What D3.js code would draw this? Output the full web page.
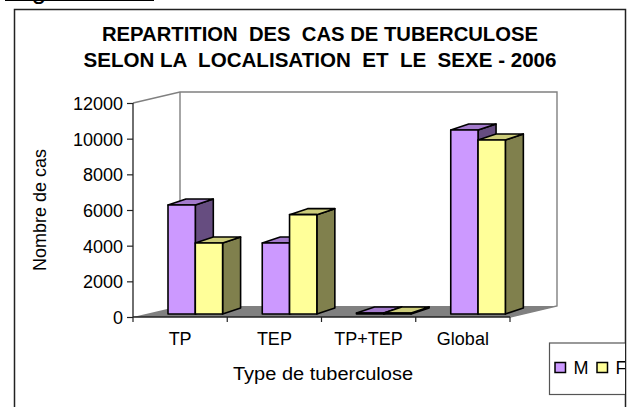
<!DOCTYPE html>
<html><head><meta charset="utf-8">
<script src="https://cdn.jsdelivr.net/npm/d3@7/dist/d3.min.js"></script>
<style>html,body{margin:0;padding:0;background:#fff}svg{display:block}text{font-family:"Liberation Sans",Arial,sans-serif;fill:#000}</style>
</head><body><svg id="c" width="628" height="407"></svg>
<script>
const categories=["TP","TEP","TP+TEP","Global"];
const seriesNames=["M","F"];
const valuesM=[6110,3980,60,10320];
const valuesF=[3980,5570,60,9760];
const yTicks=[0,2000,4000,6000,8000,10000,12000];
const titleLines=["REPARTITION  DES  CAS DE TUBERCULOSE","SELON LA  LOCALISATION  ET  LE  SEXE - 2006"];

const colors={M:{front:"#cc99ff",top:"#a37acc",side:"#664d80"},F:{front:"#ffff99",top:"#cccc7a",side:"#80804d"}};
const svg=d3.select("#c");
const x=d3.scaleBand().domain(categories).range([133,510]);
const y=d3.scaleLinear().domain([0,12000]).range([317,103]);
const depth={x:47,y:-11}, bar={x:18,y:-6,w:27.3,dx:35,dy:-3};
const stretch=(sel,w)=>sel.attr("textLength",w).attr("lengthAdjust","spacingAndGlyphs");

// outer frame and caption remnant
svg.append("path").attr("d","M14.5,407V9.5H625.5V407").attr("fill","none").attr("stroke","#222").attr("stroke-width",1.5);
svg.append("text").attr("x",10).attr("y",-1.5).attr("font-size",26).text("Figure");
svg.append("line").attr("x1",5).attr("x2",154).attr("y1",0.5).attr("y2",0.5).attr("stroke","#000").attr("stroke-width",1.2);

// title
const titleWidths=[436,473];
svg.append("g").selectAll("text").data(titleLines).join("text")
 .attr("x",320).attr("y",(d,i)=>40.7+i*26.6).attr("text-anchor","middle").attr("font-size",19.5).attr("font-weight","bold").attr("xml:space","preserve").style("white-space","pre").text(d=>d)
 .each(function(d,i){stretch(d3.select(this),titleWidths[i]);});

// floor and walls
const line=d3.line();
const x0=x.range()[0],x1=x.range()[1],y0=y(0),yT=y(12000);
svg.append("path").attr("d",line([[x0,y0],[x0+depth.x,y0+depth.y],[x1+depth.x,y0+depth.y],[x1,y0]])+"Z").attr("fill","#808080");
svg.append("path").attr("d",line([[x0,yT],[x0+depth.x,yT+depth.y],[x1+depth.x,yT+depth.y],[x1+depth.x,y0+depth.y],[x1,y0]])).attr("fill","none").attr("stroke","#808080").attr("stroke-width",1.4);
svg.append("line").attr("x1",x0+depth.x).attr("x2",x0+depth.x).attr("y1",yT+depth.y).attr("y2",y0+depth.y).attr("stroke","#808080").attr("stroke-width",1.4);

// bars
const base=y0-3;
function drawBar(g,cx,v,c){
  const h=y(0)-y(v), t=base-h, w=bar.w;
  g.append("path").attr("d",line([[cx+w,t],[cx+w+bar.x,t+bar.y],[cx+w+bar.x,base+bar.y],[cx+w,base]])+"Z").attr("fill",c.side);
  g.append("path").attr("d",line([[cx,t],[cx+bar.x,t+bar.y],[cx+w+bar.x,t+bar.y],[cx+w,t]])+"Z").attr("fill",c.top);
  g.append("rect").attr("x",cx).attr("y",t).attr("width",w).attr("height",h).attr("fill",c.front);
}
const gb=svg.append("g").attr("stroke","#000").attr("stroke-width",1.6).attr("stroke-linejoin","round");
categories.forEach((cat,i)=>{
  const cx=x(cat)+bar.dx;
  drawBar(gb,cx,valuesM[i],colors.M);
  drawBar(gb,cx+bar.w,valuesF[i],colors.F);
});

// axes
const ax=svg.append("g").attr("transform",`translate(${x0},0)`).call(d3.axisLeft(y).tickValues(yTicks).tickSize(6).tickPadding(4).tickFormat(d3.format("d")));
ax.selectAll("text").attr("font-size",18).attr("font-family",'"Liberation Sans"').attr("dy","0.36em");
ax.select(".domain").attr("stroke","#222").attr("stroke-width",1.3).attr("d",`M0,${yT}V${y0}`);
ax.selectAll("line").attr("stroke","#222").attr("stroke-width",1.2);
const xa=svg.append("g").attr("transform",`translate(0,${y0})`).call(d3.axisBottom(x).tickSize(0).tickPadding(14));
xa.select(".domain").attr("stroke","#222").attr("stroke-width",1.3).attr("d",`M${x0},0H${x1}`);
xa.selectAll("text").attr("font-size",18).attr("font-family",'"Liberation Sans"').attr("dy","0.4em").attr("y",21);
xa.selectAll("line.sep").data(d3.range(5)).join("line").attr("class","sep").attr("x1",i=>x0+i*x.step()).attr("x2",i=>x0+i*x.step()).attr("y1",0).attr("y2",5).attr("stroke","#222").attr("stroke-width",1.2);

// axis titles
svg.append("text").attr("transform","translate(46,210) rotate(-90)").attr("text-anchor","middle").attr("font-size",18).text("Nombre de cas");
stretch(svg.append("text").attr("x",323).attr("y",380).attr("text-anchor","middle").attr("font-size",18).text("Type de tuberculose"),180);

// legend (clipped by frame)
svg.append("clipPath").attr("id","lc").append("rect").attr("x",540).attr("y",335).attr("width",85).attr("height",72);
const lg=svg.append("g").attr("clip-path","url(#lc)");
lg.append("rect").attr("x",549.5).attr("y",343).attr("width",100).attr("height",51.5).attr("fill","#fff").attr("stroke","#555").attr("stroke-width",1.2);
seriesNames.forEach((n,i)=>{
  const lx=555+i*42;
  lg.append("rect").attr("x",lx).attr("y",362.5).attr("width",10.5).attr("height",10).attr("fill",colors[n].front).attr("stroke","#000").attr("stroke-width",1.5);
  lg.append("text").attr("x",lx+18.5).attr("y",373.5).attr("font-size",18).text(n);
});
</script></body></html>
